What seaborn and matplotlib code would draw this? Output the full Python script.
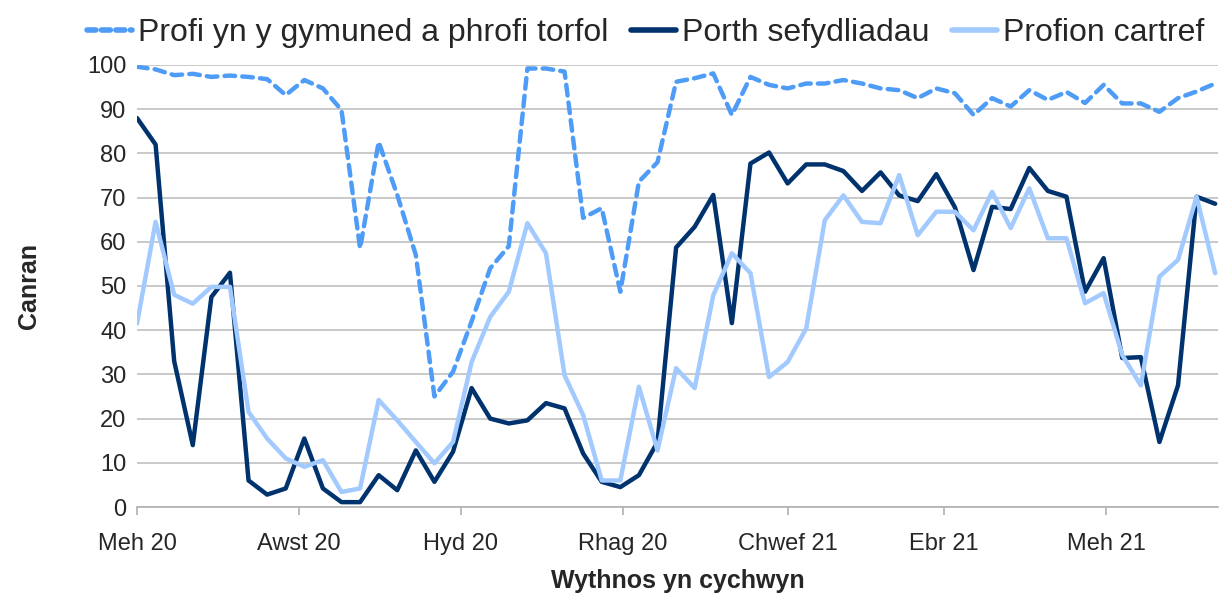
import pandas as pd
import matplotlib.pyplot as plt
import seaborn as sns

# Weekly data, week starting 1 June 2020
weeks = pd.date_range("2020-06-01", periods=59, freq="7D")

community = [99.6, 99, 97.7, 98, 97.3, 97.6, 97.3, 96.8, 93.2, 96.6,
             94.7, 89.8, 58.5, 82.6, 70.6, 57, 25, 30.6, 42, 54,
             59, 99.2, 99.2, 98.5, 65.4, 67.6, 48.7, 73.6, 78, 96.2,
             97, 98.1, 88.7, 97.3, 95.5, 94.7, 95.8, 95.8, 96.6, 95.8,
             94.7, 94.3, 92.5, 94.7, 93.6, 88.7, 92.5, 90.6, 94.3, 92.1,
             93.9, 91.4, 95.5, 91.3, 91.3, 89.4, 92.5, 94, 95.8]

care_homes = [88, 82, 33, 14, 47.5, 53, 6, 2.8, 4.2, 15.5,
              4.2, 1.1, 1.1, 7.2, 3.8, 12.8, 5.7, 12.5, 26.9, 20,
              18.9, 19.6, 23.5, 22.3, 12.1, 5.7, 4.5, 7.2, 14.7, 58.7,
              63.4, 70.6, 41.6, 77.7, 80.2, 73.2, 77.5, 77.5, 76, 71.5,
              75.7, 70.5, 69.2, 75.3, 67.8, 53.6, 67.9, 67.4, 76.7, 71.5,
              70.2, 48.7, 56.3, 33.7, 33.9, 14.7, 27.5, 70.2, 68.6]

home_tests = [41.5, 64.5, 48, 46, 49.8, 49.8, 21.5, 15.5, 11, 9.1,
              10.6, 3.4, 4.2, 24.2, 19.6, 14.7, 9.9, 14.7, 32.8, 43,
              48.7, 64.2, 57.4, 29.8, 20.8, 6, 6, 27.2, 12.8, 31.4,
              26.9, 47.9, 57.4, 52.9, 29.4, 32.8, 40.4, 64.9, 70.5, 64.5,
              64.2, 75.1, 61.5, 66.8, 66.8, 62.6, 71.3, 63.1, 72.1, 60.8,
              60.8, 46.1, 48.4, 34.4, 27.5, 52.1, 55.9, 70.2, 52.9]

labels = ["Profi yn y gymuned a phrofi torfol", "Porth sefydliadau", "Profion cartref"]
tick_dates = pd.to_datetime(["2020-06-01", "2020-08-01", "2020-10-01", "2020-12-01",
                             "2021-02-01", "2021-04-01", "2021-06-01"])
tick_labels = ["Meh 20", "Awst 20", "Hyd 20", "Rhag 20", "Chwef 21", "Ebr 21", "Meh 21"]

df = pd.DataFrame({"week": weeks, "community": community,
                   "care": care_homes, "home": home_tests})

sns.set_style("white")
plt.rcParams["font.family"] = ["Liberation Sans", "DejaVu Sans"]

fig = plt.figure(figsize=(12.31, 6), dpi=100)
ax = fig.add_axes([0.1113, 0.155, 0.878, 0.7367])

lw = 3.2
sns.lineplot(data=df, x="week", y="community", ax=ax, color="#4f9cf7", lw=lw,
             label=labels[0])
ax.lines[-1].set_dashes((2.4, 1.6))
ax.lines[-1].set_dash_capstyle("round")
sns.lineplot(data=df, x="week", y="care", ax=ax, color="#00336e", lw=lw, label=labels[1])
sns.lineplot(data=df, x="week", y="home", ax=ax, color="#a2caff", lw=lw, label=labels[2])

ax.set_ylim(0, 100)
ax.set_yticks(range(0, 101, 10))
ax.set_xlim(weeks[0], weeks[-1] + pd.Timedelta(days=1))
ax.set_xticks(tick_dates)
ax.set_xticklabels(tick_labels)
ax.yaxis.grid(True, color="#c0c0c0", lw=1.2)
ax.set_axisbelow(True)

for s in ["top", "right", "left"]:
    ax.spines[s].set_visible(False)
ax.spines["bottom"].set_color("#b0b0b0")
ax.spines["bottom"].set_linewidth(1.2)
ax.tick_params(axis="x", bottom=True, length=6, width=1.2, color="#b0b0b0",
               labelsize=17, pad=13)
ax.tick_params(axis="y", left=False, labelsize=17, pad=4)

ax.set_xlabel("Wythnos yn cychwyn", fontsize=18, fontweight="bold", labelpad=10)
ax.set_ylabel("Canran", fontsize=18, fontweight="bold", labelpad=33)

leg = ax.legend(loc="lower left", bbox_to_anchor=(-0.058, 1.01), ncol=3, frameon=False,
                fontsize=23, handlelength=1.4, handletextpad=0.2, columnspacing=0.7,
                borderaxespad=0)
for line in leg.get_lines():
    line.set_linewidth(4)
leg.get_lines()[0].set_dashes((1.6, 1.0))

fig.savefig("out.png", dpi=100)
